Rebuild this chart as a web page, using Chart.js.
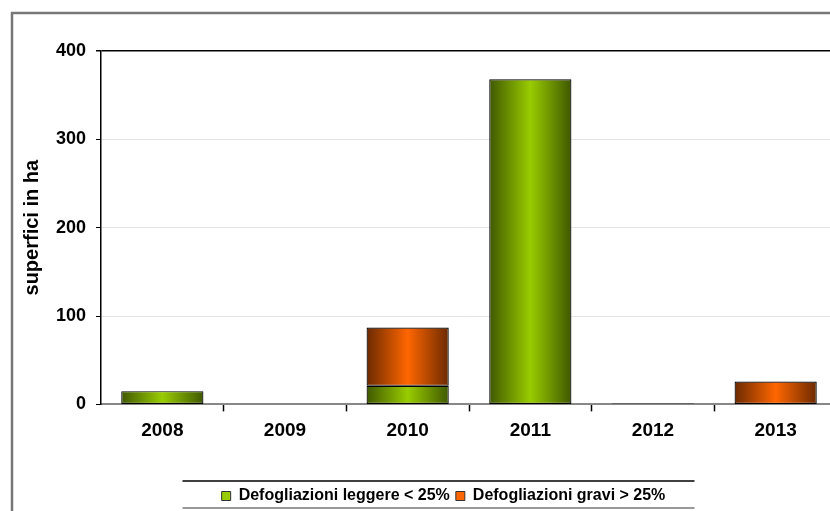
<!DOCTYPE html>
<html>
<head>
<meta charset="utf-8">
<script src="https://cdn.jsdelivr.net/npm/chart.js@4.4.1/dist/chart.umd.min.js"></script>
<style>
  html, body { margin: 0; padding: 0; background: #fff; overflow: hidden; }
  #wrap { position: relative; width: 837px; height: 511px; }
</style>
</head>
<body>
<div id="wrap"><canvas id="chart"></canvas></div>
<script>
const years = ['2008', '2009', '2010', '2011', '2012', '2013'];
const leggere = [15, null, 21, 368, 1, null];
const gravi = [null, null, 66, null, null, 26];
const yTicks = [0, 100, 200, 300, 400];
const legendColors = ['#99cc00', '#ff6600'];

const FONT = 'Liberation Sans, Arial, sans-serif';

// horizontal dark-bright-dark fill for each bar
function barGradient(dark, bright) {
  return function (context) {
    const chart = context.chart;
    const xs = chart.scales.x;
    if (context.type !== 'data' || !xs || !chart.chartArea) return bright;
    const center = xs.getPixelForValue(context.dataIndex);
    const half = (xs.width / years.length) * 0.67 / 2;
    const g = chart.ctx.createLinearGradient(center - half, 0, center + half, 0);
    g.addColorStop(0, dark);
    g.addColorStop(0.5, bright);
    g.addColorStop(1, dark);
    return g;
  };
}

const framePlugin = {
  id: 'frame',
  afterLayout(chart) {
    // legend sits a little right of centre and lower in the original
    const lg = chart.legend;
    lg.left += 25;
    lg.right += 25;
    lg.top += 3;
    lg.bottom += 3;
  },
  afterDraw(chart) {
    const ctx = chart.ctx;
    ctx.save();
    ctx.strokeStyle = '#777';
    ctx.lineWidth = 2.5;
    ctx.beginPath();
    ctx.moveTo(12, chart.height);
    ctx.lineTo(12, 13);
    ctx.lineTo(chart.width, 13);
    ctx.stroke();

    const lg = chart.legend;
    const mid = (lg.left + lg.right) / 2 - 5;
    ctx.lineWidth = 1.5;
    ctx.strokeStyle = '#000';
    ctx.beginPath();
    ctx.moveTo(mid - 256, 481);
    ctx.lineTo(mid + 256, 481);
    ctx.stroke();
    ctx.strokeStyle = '#999';
    ctx.lineWidth = 2;
    ctx.beginPath();
    ctx.moveTo(mid - 256, 508);
    ctx.lineTo(mid + 256, 508);
    ctx.stroke();
    ctx.restore();
  }
};

new Chart(document.getElementById('chart'), {
  type: 'bar',
  data: {
    labels: years,
    datasets: [
      {
        label: 'Defogliazioni leggere < 25%',
        data: leggere,
        backgroundColor: barGradient('#3f5800', '#99cc00'),
        borderColor: '#000',
        borderWidth: 1.2,
        borderSkipped: false,
        categoryPercentage: 1,
        barPercentage: 0.67
      },
      {
        label: 'Defogliazioni gravi > 25%',
        data: gravi,
        backgroundColor: barGradient('#6b2a00', '#ff6600'),
        borderColor: '#000',
        borderWidth: 1.2,
        borderSkipped: false,
        categoryPercentage: 1,
        barPercentage: 0.67
      }
    ]
  },
  options: {
    responsive: true,
    maintainAspectRatio: false,
    animation: false,
    layout: { padding: { top: 51, left: 0, right: 0, bottom: 0 } },
    plugins: {
      tooltip: { enabled: false },
      legend: {
        position: 'bottom',
        labels: {
          boxWidth: 9,
          boxHeight: 9,
          padding: 6,
          color: '#000',
          font: { family: FONT, size: 16, weight: 'bold' },
          generateLabels(chart) {
            const items = Chart.defaults.plugins.legend.labels.generateLabels(chart);
            items.forEach((it, i) => {
              it.fillStyle = legendColors[i];
              it.strokeStyle = '#333';
              it.lineWidth = 1;
            });
            return items;
          }
        }
      }
    },
    scales: {
      x: {
        stacked: true,
        afterFit(axis) { axis.height = 74.6; },
        border: { color: '#888', width: 2 },
        grid: {
          drawOnChartArea: false,
          tickLength: 7,
          tickWidth: 1.5,
          tickColor: (c) => (c.index === 0 ? 'rgba(0,0,0,0)' : '#000')
        },
        ticks: {
          padding: 8,
          color: '#000',
          font: { family: FONT, size: 19, weight: 'bold' }
        }
      },
      y: {
        stacked: true,
        min: 0,
        max: 400,
        afterFit(axis) { axis.width = 101; },
        afterBuildTicks(axis) { axis.ticks = yTicks.map(v => ({ value: v })); },
        border: { color: '#000', width: 1.5 },
        grid: {
          tickLength: 5,
          tickColor: '#000',
          lineWidth: (c) => (c.tick && c.tick.value === 400 ? 1.5 : 1),
          color: (c) => {
            if (!c.tick) return '#e4e4e4';
            if (c.tick.value === 400) return '#000';
            if (c.tick.value === 0) return 'rgba(0,0,0,0)';
            return '#e4e4e4';
          }
        },
        ticks: {
          padding: 10,
          color: '#000',
          font: { family: FONT, size: 18, weight: 'bold' }
        },
        title: {
          display: true,
          text: 'superfici in ha',
          color: '#000',
          padding: { top: 20, bottom: 0 },
          font: { family: FONT, size: 20, weight: 'bold' }
        }
      }
    }
  },
  plugins: [framePlugin]
});
</script>
</body>
</html>
